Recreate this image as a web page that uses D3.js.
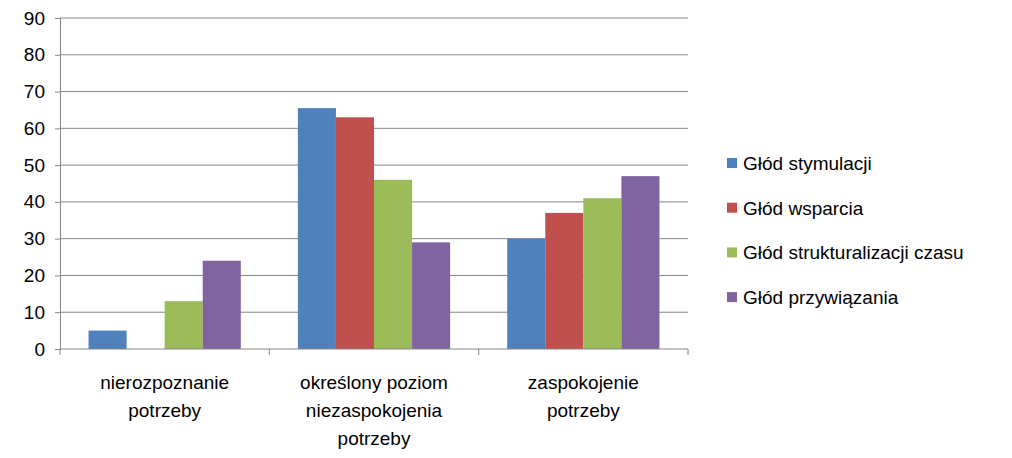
<!DOCTYPE html>
<html><head><meta charset="utf-8">
<script src="https://cdn.jsdelivr.net/npm/d3@7"></script>
<style>body{margin:0;background:#fff}svg{font-family:"Liberation Sans","Open Sans",sans-serif}</style>
</head><body><svg id="c" width="1012" height="458"></svg>
<script>
const categories = [["nierozpoznanie","potrzeby"],["określony poziom","niezaspokojenia","potrzeby"],["zaspokojenie","potrzeby"]];
const seriesNames = ["Głód stymulacji","Głód wsparcia","Głód strukturalizacji czasu","Głód przywiązania"];
const colors = ["#4F81BD","#C0504D","#9BBB59","#8064A2"];
const values = [[5,65.5,30],[0,63,37],[13,46,41],[24,29,47]];
const yTicks = [0,10,20,30,40,50,60,70,80,90];

const svg = d3.select("#c");
const L=60,R=688,T=18,B=349;
const x = d3.scaleBand().domain([0,1,2]).range([L,R]).paddingInner(0).paddingOuter(0);
const xs = d3.scaleBand().domain([0,1,2,3]).range([0,x.bandwidth()]).paddingInner(0).paddingOuter(0.75);
const y = d3.scaleLinear().domain([0,90]).range([B,T]);

svg.append("g").selectAll("line").data(yTicks.slice(1)).join("line")
 .attr("x1",L).attr("x2",R).attr("y1",d=>y(d)).attr("y2",d=>y(d)).attr("stroke","#868686");

values.forEach((vals,s)=>{
 svg.append("g").selectAll("rect").data(vals).join("rect")
  .attr("x",(d,i)=>x(i)+xs(s)).attr("width",xs.bandwidth())
  .attr("y",d=>y(d)).attr("height",d=>B-y(d)).attr("fill",colors[s]);
});

const ya = svg.append("g").attr("transform",`translate(${L},0)`)
 .call(d3.axisLeft(y).tickValues(yTicks).tickSize(5).tickPadding(10));
ya.selectAll("text").attr("font-size",19).attr("fill","#000").attr("font-family","'Liberation Sans','Open Sans',sans-serif");
ya.selectAll("line,path").attr("stroke","#868686");

svg.append("line").attr("x1",L).attr("x2",R).attr("y1",B).attr("y2",B).attr("stroke","#868686");
[0,1,2,3].forEach(i=>{const xx=i<3?x(i):R;svg.append("line").attr("x1",xx).attr("x2",xx).attr("y1",B).attr("y2",B+6).attr("stroke","#868686");});

categories.forEach((lines,i)=>{
 const t=svg.append("text").attr("text-anchor","middle").attr("font-size",19);
 lines.forEach((ln,j)=>t.append("tspan").attr("x",x(i)+x.bandwidth()/2).attr("y",389+j*28).text(ln));
});

seriesNames.forEach((n,i)=>{
 const yy=163+i*44.7;
 svg.append("rect").attr("x",727).attr("y",yy-5).attr("width",10).attr("height",10).attr("fill",colors[i]);
 svg.append("text").attr("x",743).attr("y",yy+7).attr("font-size",19).text(n);
});
</script></body></html>
